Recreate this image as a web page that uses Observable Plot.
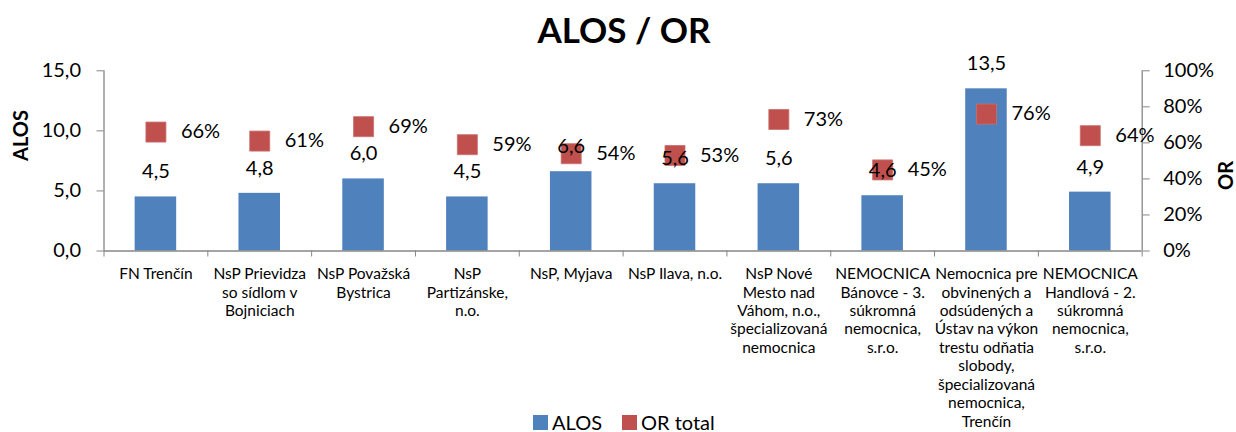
<!DOCTYPE html>
<html>
<head>
<meta charset="utf-8">
<script src="https://cdn.jsdelivr.net/npm/d3@7"></script>
<script src="https://cdn.jsdelivr.net/npm/@observablehq/plot@0.6"></script>
<style>
  html, body { margin: 0; padding: 0; background: white; overflow: hidden; }
  #wrap { position: relative; width: 1236px; height: 432px; font-family: Lato, "Open Sans", sans-serif; color: black; }
  #title { height: 56px; line-height: 58px; text-align: center; font-weight: bold; font-size: 35px; padding-left: 12px; box-sizing: border-box; }
  #legend { position: absolute; left: 533px; top: 411px; display: flex; align-items: center; font-size: 20px; line-height: 22px; }
  #legend .sw { display: inline-block; width: 15px; height: 15px; margin-right: 4px; }
  #legend .item { display: flex; align-items: center; margin-right: 20px; }
</style>
</head>
<body>
<div id="wrap">
  <div id="title">ALOS / OR</div>
  <div id="chart"></div>
  <div id="legend">
    <span class="item"><span class="sw" style="background:#4F81BD"></span>ALOS</span>
    <span class="item"><span class="sw" style="background:#C0504D"></span>OR total</span>
  </div>
</div>
<script>
// ---- data ----
const categories = [
  "FN Trenčín",
  "NsP Prievidza\nso sídlom v\nBojniciach",
  "NsP Považská\nBystrica",
  "NsP\nPartizánske,\nn.o.",
  "NsP, Myjava",
  "NsP Ilava, n.o.",
  "NsP Nové\nMesto nad\nVáhom, n.o.,\nšpecializovaná\nnemocnica",
  "NEMOCNICA\nBánovce - 3.\nsúkromná\nnemocnica,\ns.r.o.",
  "Nemocnica pre\nobvinených a\nodsúdených a\nÚstav na výkon\ntrestu odňatia\nslobody,\nšpecializovaná\nnemocnica,\nTrenčín",
  "NEMOCNICA\nHandlová - 2.\nsúkromná\nnemocnica,\ns.r.o."
];
const alos = [4.5, 4.8, 6.0, 4.5, 6.6, 5.6, 5.6, 4.6, 13.5, 4.9];
const orTotal = [66, 61, 69, 59, 54, 53, 73, 45, 76, 64];
const alosTicks = [0, 5, 10, 15];
const orTicks = [0, 20, 40, 60, 80, 100];

// ---- build ----
const ALOS_MAX = 15;
const toLeft = p => p * ALOS_MAX / 100;   // map OR % onto the ALOS scale (secondary axis)
const rows = categories.map((name, i) => ({i, name, alos: alos[i], or: orTotal[i]}));
const boundaries = d3.range(-0.5, categories.length, 1);
const half = 0.2;
const comma = d => d.toFixed(1).replace(".", ",");
const axisGray = "#868686";

const chart = Plot.plot({
  width: 1236,
  height: 376,
  marginTop: 14.3,
  marginBottom: 181.5,
  marginLeft: 103.5,
  marginRight: 94.3,
  style: {fontFamily: "Lato, 'Open Sans', sans-serif", fontSize: "20px", color: "black", background: "white", overflow: "visible"},
  x: {domain: [-0.5, categories.length - 0.5]},
  y: {domain: [0, ALOS_MAX]},
  marks: [
    Plot.rectY(rows, {x1: d => d.i - half, x2: d => d.i + half, y: "alos", fill: "#4F81BD"}),
    Plot.ruleY([0], {stroke: axisGray, strokeWidth: 1.3}),
    Plot.ruleX([boundaries[0], boundaries[boundaries.length - 1]], {stroke: axisGray, strokeWidth: 1.3}),
    Plot.axisX({ticks: boundaries, tickSize: 6, tickFormat: () => "", stroke: axisGray, label: null}),
    Plot.axisY({anchor: "left", ticks: alosTicks, tickSize: 7, tickPadding: 16, tickFormat: comma, stroke: axisGray, label: null, fontSize: 20}),
    Plot.axisY({anchor: "right", ticks: orTicks.map(toLeft), tickSize: 7, tickPadding: 14, tickFormat: d => Math.round(d / ALOS_MAX * 100) + "%", stroke: axisGray, label: null, fontSize: 20}),
    Plot.dot(rows, {x: "i", y: d => toLeft(d.or), symbol: "square", r: 11.3, fill: "#C0504D", stroke: "#c8706d", strokeWidth: 0.8}),
    Plot.text(rows, {x: "i", y: "alos", text: d => comma(d.alos), dy: -25, fontSize: 20, fill: "black"}),
    Plot.text(rows, {x: "i", y: d => toLeft(d.or), text: d => d.or + "%", dx: 25, textAnchor: "start", fontSize: 20, fill: "black"}),
    Plot.text(rows, {x: "i", y: 0, text: "name", lineAnchor: "top", dy: 15, fontSize: 15.5, lineHeight: 1.19, fill: "black"}),
    Plot.text(["ALOS"], {frameAnchor: "left", dx: -82, rotate: -90, text: d => d, fontWeight: "bold", fontSize: 20, fill: "black"}),
    Plot.text(["OR"], {frameAnchor: "right", dx: 84, rotate: -90, text: d => d, fontWeight: "bold", fontSize: 20, fill: "black"})
  ]
});
document.getElementById("chart").appendChild(chart);
</script>
</body>
</html>
